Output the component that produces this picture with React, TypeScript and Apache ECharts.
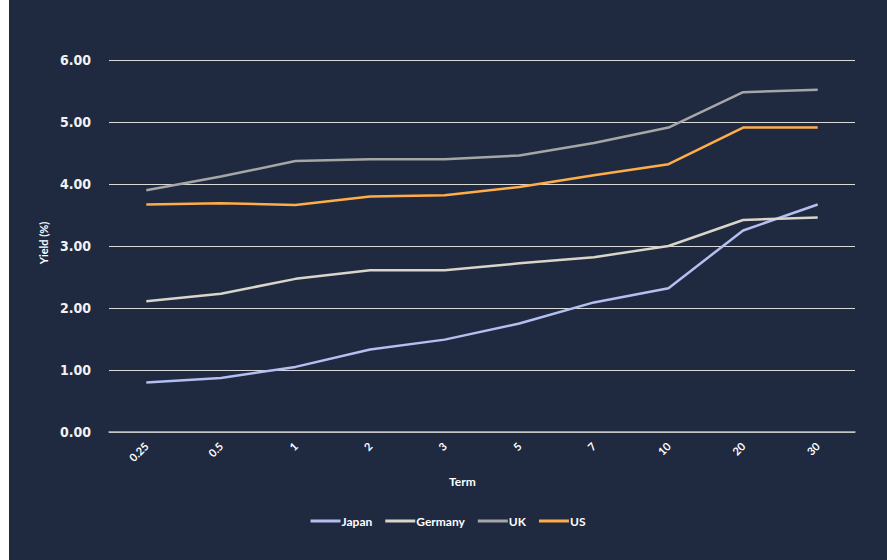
import React, { useEffect, useRef } from "react";
import * as echarts from "echarts";

const terms = ["0.25", "0.5", "1", "2", "3", "5", "7", "10", "20", "30"];
const japan = [0.8, 0.87, 1.05, 1.33, 1.49, 1.75, 2.09, 2.32, 3.25, 3.67];
const germany = [2.11, 2.23, 2.47, 2.61, 2.61, 2.72, 2.82, 3.0, 3.42, 3.46];
const uk = [3.9, 4.12, 4.37, 4.4, 4.4, 4.46, 4.66, 4.91, 5.48, 5.52];
const us = [3.67, 3.69, 3.66, 3.8, 3.82, 3.95, 4.14, 4.32, 4.91, 4.91];

const seriesDefs = [
  { name: "Japan", data: japan, color: "#b4bff0" },
  { name: "Germany", data: germany, color: "#d9d5c8" },
  { name: "UK", data: uk, color: "#a6a6a6" },
  { name: "US", data: us, color: "#ffad47" },
];

export default function App() {
  const ref = useRef<HTMLDivElement>(null);
  useEffect(() => {
    if (!ref.current) return;
    const chart = echarts.init(ref.current, null, { renderer: "svg" });
    chart.setOption({
      animation: false,
      backgroundColor: "#1f2a40",
      grid: { left: 100, right: 32, top: 60, bottom: 128 },
      legend: {
        left: "center",
        top: 510,
        itemWidth: 30,
        itemHeight: 3,
        itemGap: 13,
        icon: "rect",
        textStyle: {
          color: "#ffffff",
          fontFamily: "Lato",
          fontWeight: "bold",
          fontSize: 12,
          padding: [0, 0, 0, -4],
        },
        data: seriesDefs.map((s) => s.name),
      },
      xAxis: {
        type: "category",
        data: terms,
        boundaryGap: true,
        axisLine: { show: true, lineStyle: { color: "#bfbfbf", width: 1.5 } },
        axisTick: { show: false },
        axisLabel: {
          rotate: 45,
          color: "#ffffff",
          fontFamily: "Lato",
          fontWeight: "bold",
          fontSize: 11,
          margin: 12,
        },
      },
      yAxis: {
        type: "value",
        min: 0,
        max: 6,
        interval: 1,
        axisLine: { show: false },
        axisTick: { show: false },
        splitLine: { show: true, lineStyle: { color: "#d9d9d9", width: 1 } },
        axisLabel: {
          color: "#f2f2f2",
          fontFamily: "'DejaVu Sans Condensed', sans-serif",
          fontWeight: "bold",
          fontSize: 14,
          margin: 18,
          formatter: (v: number) => v.toFixed(2),
        },
      },
      graphic: [
        {
          type: "text",
          left: 440,
          top: 475,
          style: {
            text: "Term",
            fill: "#ffffff",
            font: "bold 12px Lato",
          },
        },
        {
          type: "text",
          x: 34,
          y: 243,
          rotation: Math.PI / 2,
          style: {
            text: "Yield (%)",
            fill: "#ffffff",
            font: "bold 11px Lato",
            align: "center",
            verticalAlign: "middle",
          },
        },
      ],
      series: seriesDefs.map((s) => ({
        name: s.name,
        type: "line",
        data: s.data,
        showSymbol: false,
        symbol: "none",
        lineStyle: { color: s.color, width: 2.5 },
        itemStyle: { color: s.color },
      })),
    });
    return () => chart.dispose();
  }, []);
  return (
    <div
      ref={ref}
      style={{ position: "absolute", left: 9, top: 0, width: 878, height: 560 }}
    />
  );
}
